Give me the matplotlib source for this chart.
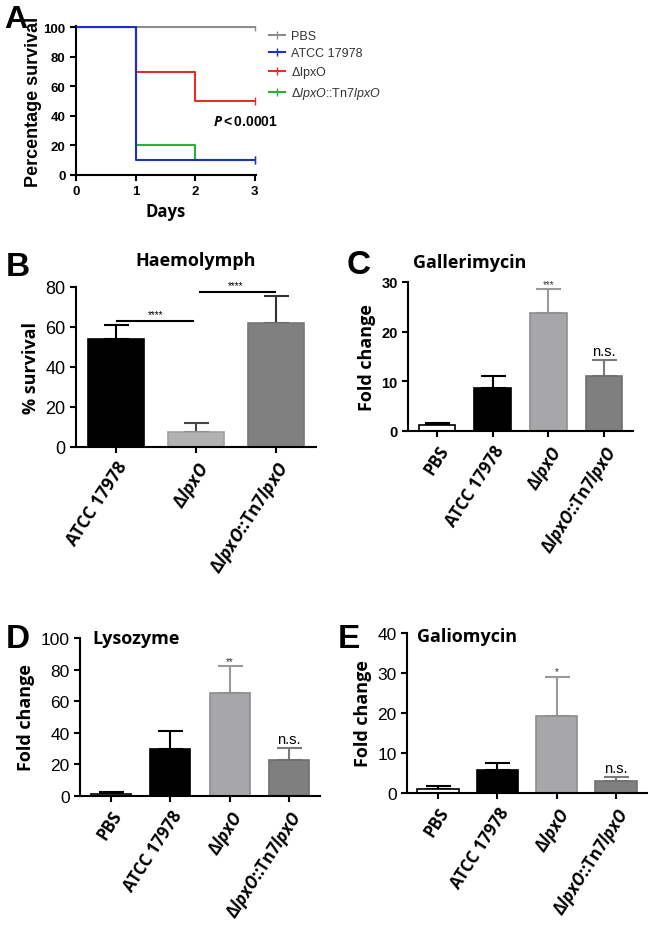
import numpy as np
import matplotlib
matplotlib.use('Agg')
import matplotlib.pyplot as plt

plt.rcParams['font.family'] = ['Liberation Sans', 'DejaVu Sans']
plt.rcParams['mathtext.fontset'] = 'custom'
plt.rcParams['mathtext.rm'] = 'Liberation Sans'
plt.rcParams['mathtext.it'] = 'Liberation Sans:italic'
plt.rcParams['mathtext.bf'] = 'Liberation Sans:bold'
plt.rcParams['mathtext.bfit'] = 'Open Sans:italic:bold'

# Panel A: survival curves
days = [0, 1, 2, 3]
surv_pbs = [100, 100, 100, 100]
surv_atcc = [100, 10, 10, 10]
surv_lpxo = [100, 70, 50, 50]
surv_comp = [100, 20, 10, 10]
legend_labels = ['PBS', 'ATCC 17978', r'$\Delta$lpxO', r'$\Delta\mathit{lpxO}$::Tn7$\mathit{lpxO}$']

# Panels B-E: bar charts
labels3 = ['ATCC 17978', r'Δ$\mathbfit{lpxO}$', r'Δ$\mathbfit{lpxO}$::Tn7$\mathbfit{lpxO}$']
labels4 = ['PBS'] + labels3

haemo_mean = [54, 7.5, 62]
haemo_err = [7, 4.5, 13.5]

galle_mean = [1.2, 8.7, 23.8, 11.1]
galle_err = [0.5, 2.3, 4.7, 3.2]
galle_sig = ['', '', '***', 'n.s.']

lyso_mean = [1.5, 30, 65.5, 23]
lyso_err = [1.3, 11, 16.5, 7.5]
lyso_sig = ['', '', '**', 'n.s.']

galio_mean = [1.0, 5.7, 19.2, 2.9]
galio_err = [0.7, 1.9, 9.8, 1.2]
galio_sig = ['', '', '*', 'n.s.']

face4 = ['white', 'black', '#a7a7a9', '#7f7f7f']
edge4 = ['black', 'black', '#8e8e90', '#707070']
err4 = ['black', 'black', '#9a9a9a', '#7a7a7a']

W, H = 650, 945
fig = plt.figure(figsize=(W / 100, H / 100), dpi=100)


def rect(l, t, r, b):
    return [l / W, 1 - b / H, (r - l) / W, (b - t) / H]


def style(ax):
    for s in ['top', 'right']:
        ax.spines[s].set_visible(False)
    for s in ['left', 'bottom']:
        ax.spines[s].set_linewidth(1.5)
    ax.tick_params(width=1.5, length=4, direction='out')


def bars(ax, mean, err, faces, edges, ecols, width, labels, fs=12):
    x = np.arange(len(mean))
    ax.bar(x, mean, width, color=faces, edgecolor=edges, linewidth=1.2, zorder=2)
    for i in x:
        ax.errorbar(i, mean[i], yerr=[[0], [err[i]]], color=ecols[i],
                    capsize=9, elinewidth=1.5, capthick=1.5, zorder=1)
    ax.set_xticks(x)
    ax.set_xticklabels(labels, rotation=57, ha='right', rotation_mode='anchor',
                       fontsize=fs, fontweight='bold', family='Open Sans')
    ax.set_xlim(-0.52, len(mean) - 0.48)
    style(ax)
    return x


# ---- A ----
axA = fig.add_axes(rect(76, 27, 256, 176))
curves = [(surv_pbs, '#8c8c8c', 2), (surv_atcc, '#1f2fbf', 5),
          (surv_lpxo, '#e0302a', 3), (surv_comp, '#2eae3a', 4)]
handles = []
for (s, c, z), lab in zip(curves, legend_labels):
    h, = axA.step(days, s, where='post', color=c, lw=1.5, label=lab,
                  marker='|', markevery=[3], markersize=6, zorder=z)
    handles.append(h)
axA.set_xlim(0, 3.02)
axA.set_ylim(0, 101)
axA.set_xticks(days)
axA.set_yticks(np.arange(0, 101, 20))
for t in axA.get_xticklabels() + axA.get_yticklabels():
    t.set_fontweight('bold')
    t.set_fontsize(9.5)
axA.set_ylabel('Percentage survival', fontsize=13, fontweight='bold')
axA.yaxis.set_label_coords(-(76 - 42) / 180, 0.5)
axA.set_xlabel('Days', fontsize=12, fontweight='bold', family='Open Sans', labelpad=3)
axA.text(2.3, 34, r'$\mathbfit{P}\mathbf{{<}0.0001}$', fontsize=10)
style(axA)
axA.legend(handles=handles, loc='upper left', bbox_to_anchor=(1.07, 0.97), frameon=False,
           fontsize=9, handlelength=1.3, labelspacing=0.4, labelcolor='#333333',
           borderpad=0, borderaxespad=0, handletextpad=0.5)
fig.text(4 / W, 1 - 20 / H, 'A', fontsize=23, fontweight='bold', va='center')

# ---- B ----
axB = fig.add_axes(rect(76, 288, 316, 448))
xb = bars(axB, haemo_mean, haemo_err, ['black', '#b2b2b2', '#808080'],
          ['black', '#a0a0a0', '#787878'], ['black', '#444444', '#333333'], 0.69, labels3,
          fs=12.5)
axB.set_xlim(-0.5, 2.5)
axB.set_ylim(0, 80)
axB.set_yticks([0, 20, 40, 60, 80])
axB.tick_params(axis='y', labelsize=13)
axB.set_ylabel('% survival', fontsize=13, fontweight='bold', family='Open Sans')
axB.hlines(63, xb[0], xb[1] - 0.02, color='black', lw=1.5)
axB.hlines(77.5, xb[1] + 0.04, xb[2], color='black', lw=1.5)
axB.text((xb[0] + xb[1]) / 2, 64, '****', ha='center', va='bottom', fontsize=7)
axB.text((xb[1] + xb[2]) / 2, 78.5, '****', ha='center', va='bottom', fontsize=7)
axB.set_title('Haemolymph', fontsize=13, fontweight='bold', family='Open Sans', pad=16)
fig.text(6 / W, 1 - 268 / H, 'B', fontsize=24, fontweight='bold', va='center')


def sig_marks(ax, mean, err, sig, top):
    for i, s in enumerate(sig):
        if not s:
            continue
        y = mean[i] + err[i]
        if s == 'n.s.':
            ax.text(i, y + top * 0.01, s, ha='center', va='bottom', fontsize=10.5)
        else:
            ax.text(i, y + top * 0.005, s, ha='center', va='bottom', fontsize=7, color='#333333')


# ---- C ----
axC = fig.add_axes(rect(408, 283, 633, 432))
bars(axC, galle_mean, galle_err, face4, edge4, err4, 0.66, labels4)
axC.set_ylim(0, 30)
axC.set_yticks([0, 10, 20, 30])
for t in axC.get_yticklabels():
    t.set_fontweight('bold')
    t.set_fontsize(10.5)
axC.set_ylabel('Fold change', fontsize=13, fontweight='bold', family='Open Sans')
sig_marks(axC, galle_mean, galle_err, galle_sig, 30)
fig.text(413 / W, 1 - 263 / H, 'Gallerimycin', fontsize=13, fontweight='bold',
         family='Open Sans', va='center')
fig.text(347 / W, 1 - 265 / H, 'C', fontsize=24, fontweight='bold', va='center')

# ---- D ----
axD = fig.add_axes(rect(80, 639, 320, 797))
bars(axD, lyso_mean, lyso_err, face4, edge4, err4, 0.68, labels4)
axD.set_ylim(0, 100)
axD.set_yticks([0, 20, 40, 60, 80, 100])
axD.tick_params(axis='y', labelsize=12.5)
axD.set_ylabel('Fold change', fontsize=13, fontweight='bold', family='Open Sans')
sig_marks(axD, lyso_mean, lyso_err, lyso_sig, 100)
axD.text(0.05, 1.0, 'Lysozyme', transform=axD.transAxes, fontsize=13,
         fontweight='bold', family='Open Sans', va='center')
fig.text(6 / W, 1 - 640 / H, 'D', fontsize=24, fontweight='bold', va='center')

# ---- E ----
axE = fig.add_axes(rect(407, 634, 647, 794))
bars(axE, galio_mean, galio_err, face4, edge4, err4, 0.7, labels4)
axE.set_ylim(0, 40)
axE.set_yticks([0, 10, 20, 30, 40])
axE.tick_params(axis='y', labelsize=12.5)
axE.set_ylabel('Fold change', fontsize=13, fontweight='bold', family='Open Sans')
sig_marks(axE, galio_mean, galio_err, galio_sig, 40)
axE.text(0.04, 0.98, 'Galiomycin', transform=axE.transAxes, fontsize=13,
         fontweight='bold', family='Open Sans', va='center')
fig.text(338 / W, 1 - 640 / H, 'E', fontsize=24, fontweight='bold', va='center')

fig.savefig('out.png', dpi=100)
